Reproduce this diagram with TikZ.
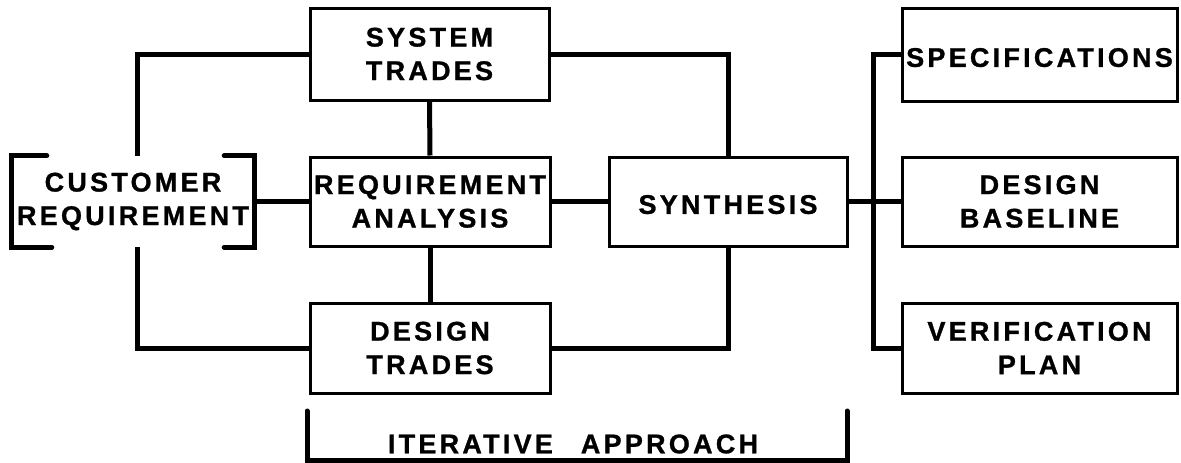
\documentclass[tikz,border=0pt]{standalone}
\usepackage{fontspec}
\newfontfamily\labfont{Liberation Sans}[LetterSpace=12, BoldFeatures={FakeBold=1}]
\begin{document}
\begin{tikzpicture}[x=1pt,y=-1pt,
  lab/.style={font=\labfont\bfseries\fontsize{27}{33.5}\selectfont, align=center, inner sep=0pt},
  % a taller first-line strut sets the text a little below the box centre
  lowered/.style={execute at begin node={\rule{0pt}{25pt}}},
  box/.style={lab, lowered, draw, line width=3pt, line join=miter},
  conn/.style={line width=5pt, line join=miter},
  brk/.style={line width=5pt, line join=miter, line cap=round}]
\useasboundingbox (0,0) rectangle (1181,463);

% left column: customer input (bracketed, no frame)
\node[lab, lowered, minimum width=242pt, minimum height=91pt] (cust) at (133,201.5) {CUSTOMER\\REQUIREMENT};
\draw[brk] ([xshift=35pt]cust.north west) -- (cust.north west) -- (cust.south west) -- ([xshift=40pt]cust.south west);
\draw[brk] ([xshift=-30pt]cust.north east) -- (cust.north east) -- (cust.south east) -- ([xshift=-30pt]cust.south east);

% central column
\node[box, minimum width=239pt, minimum height=92pt] (sys) at (429.5,54) {SYSTEM\\TRADES};
\node[box, minimum width=240pt, minimum height=89pt] (req) at (430,201.5) {REQUIREMENT\\ANALYSIS};
\node[box, minimum width=240pt, minimum height=90pt] (dtr) at (430,348) {DESIGN\\TRADES};
\node[box, minimum width=238pt, minimum height=89pt] (syn) at (728,201.5) {SYNTHESIS};

% outputs
\node[box, minimum width=275pt, minimum height=93pt] (spec) at (1039.5,54.5) {SPECIFICATIONS};
\node[box, minimum width=275pt, minimum height=89pt] (dbl) at (1039.5,201.5) {DESIGN\\BASELINE};
\node[box, minimum width=275pt, minimum height=90pt] (ver) at (1039.5,348) {VERIFICATION\\PLAN};

% loop connectors
\draw[conn] (sys.west) -| ([xshift=4pt]cust.north);
\draw[conn] ([xshift=4pt]cust.south) |- (dtr.west);
\draw[conn] (cust.east) -- (req.west);
\draw[conn] (sys.south) -- (req.north);
\draw[conn] (req.south) -- (dtr.north);
\draw[conn] (req.east) -- (syn.west);
\draw[conn] (sys.east) -| (syn.north);
\draw[conn] (syn.south) |- (dtr.east);

% output bus
\draw[conn] (syn.east) -- (dbl.west);
\draw[conn] (spec.west) -- ++(-27,0) |- (ver.west);

% iterative approach bracket
\node[lab] (iter) at (573,444) {ITERATIVE\hspace{28pt}APPROACH};
\coordinate (il) at (307,411);
\coordinate (ir) at (847,411);
\draw[brk] (il) -- (il |- 0,460) -- (ir |- 0,460) -- (ir);
\end{tikzpicture}
\end{document}
